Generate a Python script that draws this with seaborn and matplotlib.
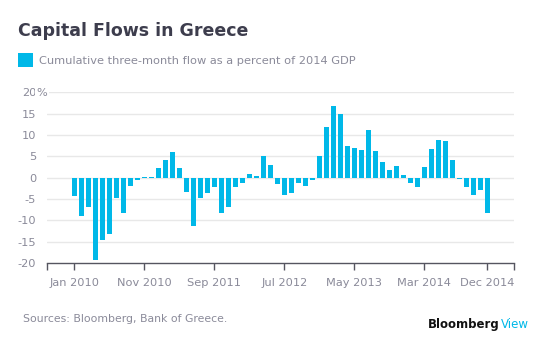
import matplotlib
matplotlib.use("Agg")
import matplotlib.pyplot as plt
import seaborn as sns
import pandas as pd
import numpy as np

months = pd.date_range("2010-01-01", "2014-12-01", freq="MS").strftime("%b %Y").tolist()
flows = [
    -4.2, -8.9, -6.8, -19.4, -14.7, -13.3, -4.7, -8.2, -1.9, -0.5,
    0.2, 0.2, 2.3, 4.2, 5.9, 2.3, -3.3, -11.4, -4.7, -3.5,
    -2.3, -8.2, -6.8, -2.3, -1.2, 0.9, 0.5, 5.1, 3.0, -1.4,
    -4.0, -3.7, -1.2, -1.9, -0.5, 5.1, 11.9, 16.8, 15.0, 7.5,
    7.0, 6.5, 11.2, 6.3, 3.7, 1.9, 2.8, 0.7, -1.2, -2.1,
    2.6, 6.8, 8.9, 8.6, 4.2, -0.3, -2.3, -4.0, -3.0, -8.4,
]
tick_labels = ["Jan 2010", "Nov 2010", "Sep 2011", "Jul 2012", "May 2013", "Mar 2014", "Dec 2014"]
y_ticks = [20, 15, 10, 5, 0, -5, -10, -15, -20]

title = "Capital Flows in Greece"
legend_label = "Cumulative three-month flow as a percent of 2014 GDP"
source = "Sources: Bloomberg, Bank of Greece."

BLUE = "#00b8e8"
GRAY_TXT = "#8a8a99"
DARK = "#3d3d4d"

sns.set_theme(style="white")
plt.rcParams["font.family"] = ["DejaVu Sans"]

W, H = 553, 351
fig = plt.figure(figsize=(W / 100, H / 100), dpi=100)
def fx(px): return px / W
def fy(py): return 1 - py / H

ax = fig.add_axes([fx(47.3), fy(263), fx(514.3) - fx(47.3), fy(92.3) - fy(263)])
df = pd.DataFrame({"month": months, "flow": flows})
sns.barplot(data=df, x="month", y="flow", color=BLUE, saturation=1, width=0.7,
            edgecolor="none", linewidth=0, ax=ax, zorder=3)

ax.set_xlim(-3.86, 62.86)
ax.set_ylim(-20, 20)
ax.set_xlabel("")
ax.set_ylabel("")

ticks_idx = [months.index(t) for t in tick_labels]
ax.set_xticks(ticks_idx)
ax.set_xticklabels(tick_labels, fontsize=8.2, color=GRAY_TXT)
ax.set_xticks([-3.86, 62.86], minor=True)
ax.tick_params(axis="x", which="both", direction="out", length=5, width=1, color="#555560", pad=6, bottom=True)

ax.set_yticks(y_ticks)
ax.set_yticklabels([str(v) for v in y_ticks], fontsize=8.2, color=GRAY_TXT)
ax.tick_params(axis="y", length=0, pad=8)
for v in y_ticks[:-1]:
    ax.axhline(v, color="#e8e8e8", lw=1, zorder=1)
fig.canvas.draw()
lab20 = ax.get_yticklabels()[0].get_window_extent()
ax.text(lab20.x1 + 0.5, (lab20.y0 + lab20.y1) / 2, "%", transform=None, ha="left", va="center",
        fontsize=8.2, color=GRAY_TXT, zorder=4,
        bbox=dict(facecolor="white", edgecolor="none", pad=1.5))

for s in ["top", "right", "left"]:
    ax.spines[s].set_visible(False)
ax.spines["bottom"].set_color("#555560")
ax.spines["bottom"].set_linewidth(1)

fig.text(fx(18), fy(36), title, fontsize=12.5, fontweight="bold", color=DARK, ha="left", va="baseline")
fig.patches.append(matplotlib.patches.Rectangle((fx(18.3), fy(67)), fx(15), fy(53) - fy(67),
                                                transform=fig.transFigure, facecolor=BLUE, edgecolor="none"))
fig.text(fx(39), fy(60.5), legend_label, fontsize=8.2, color=GRAY_TXT, ha="left", va="center")
fig.text(fx(23), fy(319), source, fontsize=7.8, color=GRAY_TXT, ha="left", va="center")
t1 = fig.text(fx(428), fy(324.5), "Bloomberg", fontsize=8.5, fontweight="bold", color="#111111", ha="left", va="center")
fig.canvas.draw()
bb = t1.get_window_extent()
fig.text(bb.x1 / (W) + 1 / W, fy(324.5), "View", fontsize=8.5, color=BLUE, ha="left", va="center")

fig.savefig("out.png", dpi=100)
